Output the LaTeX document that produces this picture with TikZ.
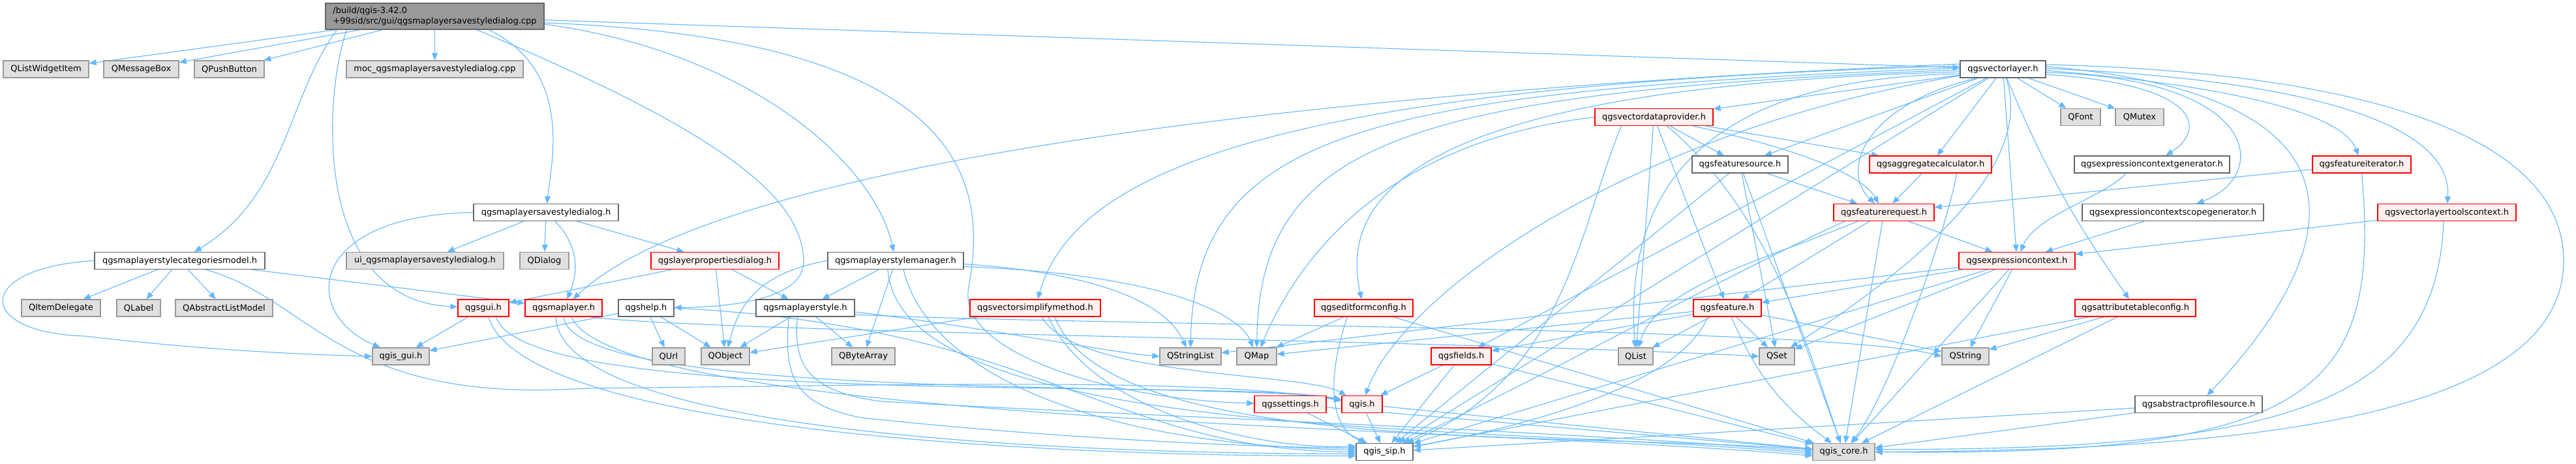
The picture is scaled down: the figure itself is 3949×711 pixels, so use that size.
\documentclass[tikz,border=0pt]{standalone}
\usepackage{fontspec}
\setmainfont{DejaVu Sans}
\usetikzlibrary{arrows.meta}
\definecolor{edgecol}{HTML}{63B8FF}
\definecolor{extfill}{HTML}{E0E0E0}
\definecolor{extdraw}{HTML}{999999}
\definecolor{docdraw}{HTML}{666666}
\definecolor{truncfill}{HTML}{FFF0F0}
\definecolor{truncdraw}{HTML}{FF0000}
\definecolor{mainfill}{HTML}{999999}
\pgfdeclarelayer{bg}
\pgfsetlayers{bg,main}
\tikzset{
  box/.style={draw, line width=1.2pt, inner sep=0pt, minimum height=26pt, anchor=center,
    font=\fontsize{13pt}{15.5pt}\selectfont},
  ext/.style={box, fill=extfill, draw=extdraw},
  doc/.style={box, fill=white, draw=docdraw},
  trunc/.style={box, fill=truncfill, draw=truncdraw},
  rootbox/.style={box, fill=mainfill, draw=docdraw},
  dep/.style={draw=edgecol, line width=1.1pt, -{Triangle[length=11pt,width=9pt]}},
}
\begin{document}
\begin{tikzpicture}[x=1pt,y=1pt]
\useasboundingbox (0,0) rectangle (3949,-711);
% ---------- nodes ----------
\node[rootbox, minimum width=335pt, minimum height=40pt, align=left] (main) at (666.5,-25) {/build/qgis-3.42.0\\+99sid/src/gui/qgsmaplayersavestyledialog.cpp};
\node[ext, minimum width=131pt] (lwi) at (70.5,-106) {QListWidgetItem};
\node[ext, minimum width=115pt] (mbox) at (216.5,-106) {QMessageBox};
\node[ext, minimum width=107pt] (pbtn) at (351.5,-106) {QPushButton};
\node[ext, minimum width=271pt] (moc) at (666.5,-106) {moc\_qgsmaplayersavestyledialog.cpp};
\node[doc, minimum width=131pt] (vl) at (3070.5,-106) {qgsvectorlayer.h};
\node[trunc, minimum width=181pt] (vdp) at (2535.5,-179.5) {qgsvectordataprovider.h};
\node[ext, minimum width=61pt] (qfont) at (3189.5,-179.5) {QFont};
\node[ext, minimum width=74pt] (qmutex) at (3280,-179.5) {QMutex};
\node[doc, minimum width=147pt] (fsrc) at (2667.5,-252) {qgsfeaturesource.h};
\node[trunc, minimum width=187pt] (agg) at (2959.5,-252) {qgsaggregatecalculator.h};
\node[doc, minimum width=238pt] (ecg) at (3299,-252) {qgsexpressioncontextgenerator.h};
\node[trunc, minimum width=151pt] (fit) at (3620.5,-252) {qgsfeatureiterator.h};
\node[doc, minimum width=222pt] (sdh) at (837,-325.5) {qgsmaplayersavestyledialog.h};
\node[trunc, minimum width=154pt] (freq) at (2888,-325.5) {qgsfeaturerequest.h};
\node[doc, minimum width=278pt] (ecsg) at (3331,-325.5) {qgsexpressioncontextscopegenerator.h};
\node[trunc, minimum width=212pt] (vltc) at (3751,-325.5) {qgsvectorlayertoolscontext.h};
\node[doc, minimum width=261pt] (scm) at (275.5,-399.5) {qgsmaplayerstylecategoriesmodel.h};
\node[ext, minimum width=241pt] (ui) at (651.5,-399.5) {ui\_qgsmaplayersavestyledialog.h};
\node[ext, minimum width=75pt] (qdlg) at (834.5,-399.5) {QDialog};
\node[trunc, minimum width=196pt] (lpd) at (1096,-399.5) {qgslayerpropertiesdialog.h};
\node[doc, minimum width=208pt] (lsm) at (1373,-399.5) {qgsmaplayerstylemanager.h};
\node[trunc, minimum width=178pt] (ec) at (3092,-399.5) {qgsexpressioncontext.h};
\node[ext, minimum width=121pt] (qid) at (93.5,-472) {QItemDelegate};
\node[ext, minimum width=67pt] (qlbl) at (212.5,-472) {QLabel};
\node[ext, minimum width=149pt] (qalm) at (343.5,-472) {QAbstractListModel};
\node[trunc, minimum width=78pt] (gui) at (741,-472) {qgsgui.h};
\node[trunc, minimum width=118pt] (ml) at (864,-472) {qgsmaplayer.h};
\node[doc, minimum width=85pt] (help) at (990.5,-472) {qgshelp.h};
\node[doc, minimum width=151pt] (mls) at (1234.5,-472) {qgsmaplayerstyle.h};
\node[trunc, minimum width=200pt] (vsm) at (1587,-472) {qgsvectorsimplifymethod.h};
\node[trunc, minimum width=151pt] (efc) at (2090.5,-472) {qgseditformconfig.h};
\node[trunc, minimum width=104pt] (feat) at (2648,-472) {qgsfeature.h};
\node[trunc, minimum width=185pt] (atc) at (3273.5,-472) {qgsattributetableconfig.h};
\node[ext, minimum width=87pt] (qgui) at (614.5,-546) {qgis\_gui.h};
\node[ext, minimum width=50pt] (qurl) at (1025,-546) {QUrl};
\node[ext, minimum width=74pt] (qobj) at (1112,-546) {QObject};
\node[ext, minimum width=97pt] (qba) at (1323.5,-546) {QByteArray};
\node[ext, minimum width=94pt] (qsl) at (1825,-546) {QStringList};
\node[ext, minimum width=61pt] (qmap) at (1926.5,-546) {QMap};
\node[trunc, minimum width=92pt] (flds) at (2240,-546) {qgsfields.h};
\node[ext, minimum width=53pt] (qlist) at (2507.5,-546) {QList};
\node[ext, minimum width=54pt] (qset) at (2724,-546) {QSet};
\node[ext, minimum width=72pt] (qstr) at (3013,-546) {QString};
\node[trunc, minimum width=110pt] (sett) at (1978,-619.5) {qgssettings.h};
\node[trunc, minimum width=62pt] (qgis) at (2088,-619.5) {qgis.h};
\node[doc, minimum width=195pt] (aps) at (3370.5,-619.5) {qgsabstractprofilesource.h};
\node[doc, minimum width=87pt] (sip) at (2122.5,-692.5) {qgis\_sip.h};
\node[ext, minimum width=95pt] (core) at (2826.5,-692.5) {qgis\_core.h};
% ---------- edges ----------
\begin{pgfonlayer}{bg}
\fill[white] (0,0) rectangle (3949,-711);
% main
\draw[dep] (main) -- (lwi);
\draw[dep] (main) -- (mbox);
\draw[dep] (main) -- (pbtn);
\draw[dep] (main) -- (moc);
\draw[dep] ([xshift=-150pt]main.south) .. controls (440,-150) and (440,-300) .. (scm);
\draw[dep] ([xshift=-135pt]main.south) .. controls (495,-150) and (480,-460) .. (gui);
\draw[dep] ([xshift=64pt]main.south) .. controls (1100,-200) and (1230,-300) .. (1232,-400) .. controls (1233,-450) and (1150,-470) .. (help);
\draw[dep] ([xshift=83pt]main.south) .. controls (880,-110) and (845,-250) .. (sdh);
\draw[dep] (main) -- (vl);
\draw[dep] ([yshift=-12pt]main.east) .. controls (1150,-80) and (1340,-250) .. (lsm);
\draw[dep] ([yshift=-10pt]main.east) .. controls (1510,-60) and (1510,-300) .. (1485,-440) .. controls (1465,-540) and (1700,-612) .. (sett);
% savestyledialog.h
\draw[dep] (sdh) -- (ui);
\draw[dep] (sdh) -- (qdlg);
\draw[dep] (sdh.west) .. controls (470,-330) and (460,-480) .. (qgui);
\draw[dep] ([xshift=14pt]sdh.south) .. controls (890,-380) and (885,-420) .. (ml);
\draw[dep] (sdh) -- (lpd);
% categoriesmodel
\draw[dep] (scm) -- (qid);
\draw[dep] (scm) -- (qlbl);
\draw[dep] (scm) -- (qalm);
\draw[dep] (scm.west) .. controls (-40,-410) and (-40,-510) .. (130,-515) .. controls (300,-535) and (450,-543) .. (qgui.west);
\draw[dep] (scm) -- (ml);
\draw[dep] ([xshift=40pt]scm.south) .. controls (480,-460) and (520,-620) .. (900,-595) .. controls (1400,-590) and (1850,-578) .. (qgis);
% layerpropertiesdialog
\draw[dep] (lpd) -- (gui);
\draw[dep] (lpd) -- (qobj);
\draw[dep] (lpd) -- (mls);
% stylemanager
\draw[dep] (lsm.west) .. controls (1150,-420) and (1130,-480) .. (qobj);
\draw[dep] (lsm) -- (mls);
\draw[dep] (lsm) -- (qba);
\draw[dep] ([yshift=-5pt]lsm.east) .. controls (1700,-420) and (1790,-470) .. (qsl);
\draw[dep] ([yshift=-9pt]lsm.east) .. controls (1780,-420) and (1900,-480) .. (qmap);
\draw[dep] ([xshift=12pt]lsm.south) .. controls (1420,-560) and (1650,-680) .. ([yshift=3pt]sip.west);
\draw[dep] ([xshift=-12pt]lsm.south) .. controls (1380,-680) and (2300,-650) .. ([yshift=-3pt]core.west);
% qgsgui
\draw[dep] (gui) -- (qgui);
\draw[dep] ([xshift=8pt]gui.south) .. controls (800,-660) and (1600,-700) .. ([yshift=-6pt]sip.west);
\draw[dep] ([xshift=20pt]gui.south) .. controls (800,-630) and (1900,-578) .. (qgis);
% qgsmaplayer
\draw[dep] (ml.south) .. controls (880,-620) and (1900,-582) .. (qgis);
\draw[dep] ([xshift=-12pt]ml.south) .. controls (860,-660) and (1600,-695) .. ([yshift=-3pt]sip.west);
\draw[dep] ([xshift=12pt]ml.south) .. controls (950,-650) and (2300,-655) .. ([yshift=-6pt]core.west);
\draw[dep] ([xshift=40pt]ml.south) .. controls (1100,-510) and (2200,-520) .. (qset.west);
% qgshelp
\draw[dep] (help) -- (qgui);
\draw[dep] (help) -- (qurl);
\draw[dep] (help) -- (qobj);
\draw[dep] (help.east) .. controls (1600,-500) and (1700,-690) .. (sip.west);
% maplayerstyle
\draw[dep] (mls) -- (qobj);
\draw[dep] (mls) -- (qba);
\draw[dep] ([yshift=-6pt]mls.east) .. controls (1500,-500) and (1700,-540) .. (qsl.west);
\draw[dep] ([yshift=-10pt]mls.east) .. controls (1700,-500) and (2800,-500) .. (qstr.west);
\draw[dep] ([xshift=-25pt]mls.south) .. controls (1200,-580) and (1220,-620) .. (1320,-640) .. controls (1600,-670) and (1900,-685) .. ([yshift=6pt]sip.west);
\draw[dep] ([xshift=-12pt]mls.south) .. controls (1215,-560) and (1240,-600) .. (1350,-615) .. controls (1800,-640) and (2400,-660) .. (core.west);
% simplifymethod
\draw[dep] (vsm) -- (qobj);
\draw[dep] ([xshift=10pt]vsm.south) .. controls (1650,-580) and (2000,-570) .. (qgis);
\draw[dep] ([xshift=20pt]vsm.south) .. controls (1680,-640) and (1950,-690) .. ([yshift=9pt]sip.west);
\draw[dep] ([xshift=30pt]vsm.south) .. controls (1700,-700) and (2400,-660) .. ([yshift=3pt]core.west);
% settings, qgis
\draw[dep] (sett) -- (sip);
\draw[dep] (sett) -- (core);
\draw[dep] (qgis) -- (sip);
\draw[dep] (qgis) -- (core);
% editformconfig
\draw[dep] (efc) -- (qmap);
\draw[dep] ([xshift=-25pt]efc.south) .. controls (2040,-560) and (2030,-650) .. (sip);
\draw[dep] (efc) -- (core);
% fields
\draw[dep] (flds) -- (qgis);
\draw[dep] (flds) -- (sip);
\draw[dep] (flds) -- (core);
% feature
\draw[dep] (feat) -- (flds);
\draw[dep] (feat) -- (qlist);
\draw[dep] (feat) -- (qset);
\draw[dep] (feat) -- (qmap);
\draw[dep] (feat) -- (qstr);
\draw[dep] ([xshift=-30pt]feat.south) .. controls (2570,-600) and (2300,-660) .. (sip);
\draw[dep] (feat) to[bend right=15] (core);
% vectordataprovider
\draw[dep] (vdp) -- (fsrc);
\draw[dep] (vdp) -- (agg);
\draw[dep] ([xshift=60pt]vdp.south) .. controls (2720,-220) and (2850,-260) .. (freq);
\draw[dep] (vdp) -- (feat);
\draw[dep] (vdp) -- (qlist);
\draw[dep] (vdp.west) .. controls (2100,-220) and (1980,-420) .. (qmap);
\draw[dep] ([xshift=-50pt]vdp.south) .. controls (2420,-350) and (2400,-580) .. (sip);
\draw[dep] ([xshift=20pt]vdp.south) .. controls (2720,-330) and (2780,-560) .. (core);
% featuresource
\draw[dep] (fsrc) -- (freq);
\draw[dep] (fsrc) -- (qset);
\draw[dep] (fsrc) -- (sip);
\draw[dep] (fsrc) -- (core);
% aggregatecalculator
\draw[dep] (agg) -- (freq);
\draw[dep] ([xshift=40pt]agg.south) .. controls (2990,-330) and (2900,-600) .. (core);
% featurerequest
\draw[dep] (freq) -- (feat);
\draw[dep] ([xshift=-40pt]freq.south) .. controls (2700,-400) and (2540,-440) .. (qlist);
\draw[dep] (freq) -- (ec);
\draw[dep] ([xshift=-60pt]freq.south) .. controls (2650,-420) and (2400,-560) .. (sip);
\draw[dep] (freq) -- (core);
% expressioncontext
\draw[dep] (ec) -- (feat);
\draw[dep] (ec) -- (qstr);
\draw[dep] (ec) -- (qsl);
\draw[dep] (ec) -- (qset);
\draw[dep] (ec) -- (sip);
\draw[dep] (ec) -- (core);
% generators, iterator, configs
\draw[dep] ([xshift=-40pt]ecg.south) .. controls (3230,-300) and (3120,-330) .. (ec);
\draw[dep] (ecsg) -- (ec);
\draw[dep] (fit) -- (freq);
\draw[dep] (fit.south) .. controls (3650,-600) and (3550,-700) .. (core.east);
\draw[dep] (atc) -- (qstr);
\draw[dep] (atc) -- (sip);
\draw[dep] (atc) -- (core);
\draw[dep] (aps) -- (sip);
\draw[dep] (aps) -- (core);
\draw[dep] (vltc) -- (ec);
\draw[dep] ([xshift=-5pt]vltc.south) .. controls (3735,-620) and (3500,-690) .. ([yshift=4pt]core.east);
% vectorlayer
\draw[dep] (vl) -- (qfont);
\draw[dep] (vl) -- (qmutex);
\draw[dep] (vl) -- (vdp);
\draw[dep] (vl) -- (fsrc);
\draw[dep] (vl) -- (agg);
\draw[dep] ([yshift=-8pt]vl.east) .. controls (3380,-130) and (3380,-200) .. (ecg);
\draw[dep] ([yshift=-5pt]vl.east) .. controls (3470,-120) and (3480,-270) .. (ecsg);
\draw[dep] ([yshift=-2pt]vl.east) .. controls (3400,-130) and (3590,-170) .. (fit);
\draw[dep] ([yshift=1pt]vl.east) .. controls (3500,-120) and (3760,-180) .. (vltc);
\draw[dep] (vl) -- (ec);
\draw[dep] (vl) to[bend right=6] (atc);
\draw[dep] ([yshift=4pt]vl.east) .. controls (3700,-150) and (3560,-420) .. (aps);
\draw[dep] ([xshift=-40pt]vl.south) .. controls (2860,-160) and (2820,-260) .. (freq);
\draw[dep] (vl) -- (flds);
\draw[dep] ([yshift=-4pt]vl.west) .. controls (2300,-130) and (2040,-250) .. (efc);
\draw[dep] ([yshift=5pt]vl.west) .. controls (2000,-130) and (1650,-250) .. (vsm);
\draw[dep] ([yshift=8pt]vl.west) .. controls (2000,-140) and (1100,-250) .. (ml);
\draw[dep] ([yshift=2pt]vl.west) .. controls (2100,-140) and (1830,-200) .. (qsl);
\draw[dep] ([yshift=-1pt]vl.west) .. controls (2150,-140) and (1930,-220) .. (qmap);
\draw[dep] ([yshift=-7pt]vl.west) .. controls (2600,-120) and (2490,-300) .. (qlist);
\draw[dep] (vl) .. controls (3120,-250) and (2950,-400) .. (qset);
\draw[dep] ([yshift=-10pt]vl.west) .. controls (2500,-200) and (2150,-450) .. (qgis);
\draw[dep] (vl) -- (sip);
\draw[dep] ([yshift=7pt]vl.east) .. controls (3600,-110) and (3930,-200) .. (3930,-400) .. controls (3930,-650) and (3400,-690) .. (core.east);
\end{pgfonlayer}
\end{tikzpicture}
\end{document}
